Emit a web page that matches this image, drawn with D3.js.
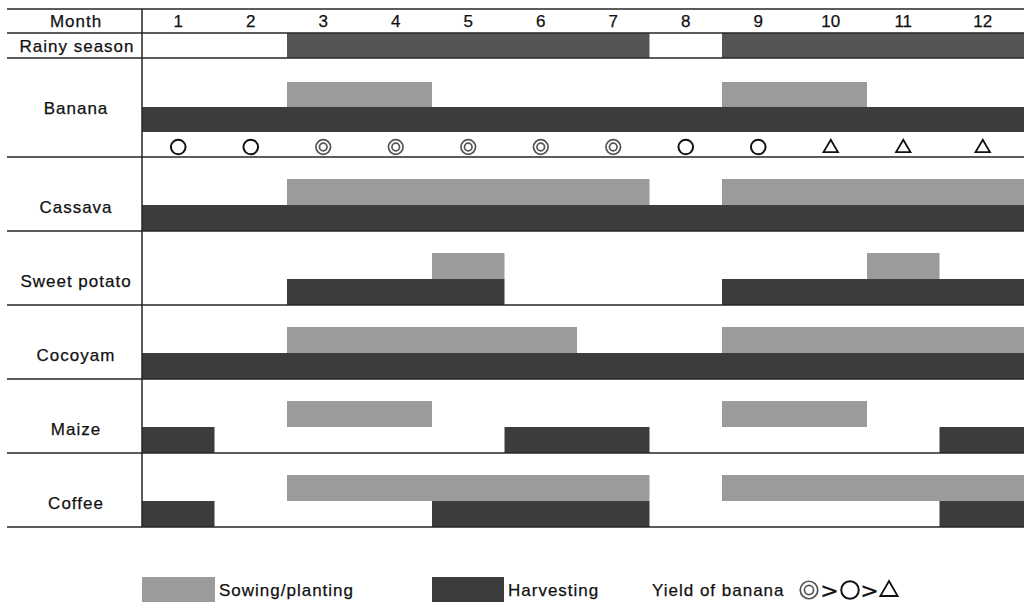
<!DOCTYPE html>
<html>
<head>
<meta charset="utf-8">
<script src="https://cdn.jsdelivr.net/npm/d3@7"></script>
<style>
  html, body { margin: 0; padding: 0; background: #fff; }
  svg { display: block; }
  text { font-family: "Liberation Sans", Arial, sans-serif; fill: #111; stroke: #111; stroke-width: 0.25px; }
</style>
</head>
<body>
<svg id="chart" width="1024" height="604"></svg>
<script>
// ---- Data ----
const months = [1, 2, 3, 4, 5, 6, 7, 8, 9, 10, 11, 12];
const monthLabels = ["1", "2", "3", "4", "5", "6", "7", "8", "9", "10", "11", "12"];
const crops = ["Banana", "Cassava", "Sweet potato", "Cocoyam", "Maize", "Coffee"];
// periods: [startMonth, endMonth] inclusive
const rainySeason = [[3, 7], [9, 12]];
const sowing = {
  "Banana": [[3, 4], [9, 10]],
  "Cassava": [[3, 7], [9, 12]],
  "Sweet potato": [[5, 5], [11, 11]],
  "Cocoyam": [[3, 6], [9, 12]],
  "Maize": [[3, 4], [9, 10]],
  "Coffee": [[3, 7], [9, 12]]
};
const harvesting = {
  "Banana": [[1, 12]],
  "Cassava": [[1, 12]],
  "Sweet potato": [[3, 5], [9, 12]],
  "Cocoyam": [[1, 12]],
  "Maize": [[1, 1], [6, 7], [12, 12]],
  "Coffee": [[1, 1], [5, 7], [12, 12]]
};
// banana yield: 3 = ◎, 2 = ○, 1 = △
const bananaYield = [2, 2, 3, 3, 3, 3, 3, 2, 2, 1, 1, 1];
const yieldOrder = [3, 2, 1];
const legendLabels = ["Sowing/planting", "Harvesting", "Yield of banana"];

// ---- Layout ----
const svg = d3.select("#chart");
const COL_SOW = "#9b9b9b", COL_HARV = "#3c3c3c", COL_RAIN = "#555555", COL_LINE = "#262626";
const x = d3.scaleLinear().domain([0, 11, 12]).range([142, 939.5, 1026]);
const lineX0 = 7, lineX1 = 1024;
const topY = 9, headerBottom = 33, rainBottom = 58;
const bananaTop = 58, bananaBottom = 157, rowH = 74;

const rowTop = {};
crops.forEach((c, i) => {
  rowTop[c] = (c === "Banana") ? bananaTop : bananaBottom + (i - 1) * rowH;
});
const tableBottom = bananaBottom + (crops.length - 1) * rowH;

const gBars = svg.append("g");
gBars.selectAll("rect.rain").data(rainySeason).join("rect")
  .attr("x", d => x(d[0] - 1)).attr("width", d => x(d[1]) - x(d[0] - 1))
  .attr("y", headerBottom).attr("height", rainBottom - headerBottom)
  .attr("fill", COL_RAIN);

crops.forEach(c => {
  const t = rowTop[c];
  const sY = c === "Banana" ? t + 24 : t + 22;
  const hY = c === "Banana" ? t + 49 : t + 48;
  const h = c === "Banana" ? 25 : 26;
  gBars.selectAll(null).data(sowing[c]).join("rect")
    .attr("x", d => x(d[0] - 1)).attr("width", d => x(d[1]) - x(d[0] - 1))
    .attr("y", sY).attr("height", hY - sY)
    .attr("fill", COL_SOW);
  gBars.selectAll(null).data(harvesting[c]).join("rect")
    .attr("x", d => x(d[0] - 1)).attr("width", d => x(d[1]) - x(d[0] - 1))
    .attr("y", hY).attr("height", h)
    .attr("fill", COL_HARV);
});

// grid lines
const hLines = [topY, headerBottom, rainBottom, bananaBottom]
  .concat(crops.slice(1).map(c => rowTop[c] + rowH));
svg.append("g").selectAll("line").data(hLines).join("line")
  .attr("x1", lineX0).attr("x2", lineX1)
  .attr("y1", d => d).attr("y2", d => d)
  .attr("stroke", COL_LINE).attr("stroke-width", 1.5);
svg.append("line")
  .attr("x1", x(0)).attr("x2", x(0)).attr("y1", topY).attr("y2", tableBottom)
  .attr("stroke", COL_LINE).attr("stroke-width", 1.5);

// header
const fs = "17px", ls = "1px";
svg.append("text").attr("x", 76).attr("y", 27).attr("text-anchor", "middle")
  .style("font-size", fs).style("letter-spacing", ls).text("Month");
svg.selectAll("text.m").data(months).join("text")
  .attr("class", "m")
  .attr("x", d => (x(d - 1) + x(d)) / 2).attr("y", 27)
  .attr("text-anchor", "middle").style("font-size", fs)
  .text((d, i) => monthLabels[i]);
svg.append("text").attr("x", 77).attr("y", 52).attr("text-anchor", "middle")
  .style("font-size", fs).style("letter-spacing", ls).text("Rainy season");

// crop labels
svg.selectAll("text.crop").data(crops).join("text")
  .attr("class", "crop")
  .attr("x", 76).attr("y", d => rowTop[d] + 56)
  .attr("text-anchor", "middle").style("font-size", fs).style("letter-spacing", ls)
  .text(d => d);

// banana yield symbols
const gSym = svg.append("g");
bananaYield.forEach((v, i) => {
  drawYieldSymbol(gSym, (x(i) + x(i + 1)) / 2, 147, v, 1);
});

function drawYieldSymbol(g, cx, cy, v, k) {
  if (v === 3) {
    g.append("circle").attr("cx", cx).attr("cy", cy).attr("r", 7.3 * k)
      .attr("fill", "none").attr("stroke", "#555").attr("stroke-width", 1.7);
    g.append("circle").attr("cx", cx).attr("cy", cy).attr("r", 3.8 * k)
      .attr("fill", "none").attr("stroke", "#555").attr("stroke-width", 1.7);
  } else if (v === 2) {
    g.append("circle").attr("cx", cx).attr("cy", cy).attr("r", 7.3 * k)
      .attr("fill", "none").attr("stroke", "#111").attr("stroke-width", 2);
  } else {
    g.append("path").attr("transform", `translate(${cx},${cy + 1})`)
      .attr("d", d3.symbol(d3.symbolTriangle, 90 * k * k)())
      .attr("fill", "none").attr("stroke", "#111").attr("stroke-width", 1.8);
  }
}

// legend
const legY = 577, legH = 25;
svg.append("rect").attr("x", 142).attr("y", legY).attr("width", 73).attr("height", legH).attr("fill", COL_SOW);
svg.append("rect").attr("x", 432).attr("y", legY).attr("width", 72).attr("height", legH).attr("fill", COL_HARV);
svg.append("text").attr("x", 219).attr("y", 596).style("font-size", fs).style("letter-spacing", ls).text(legendLabels[0]);
svg.append("text").attr("x", 508).attr("y", 596).style("font-size", fs).style("letter-spacing", ls).text(legendLabels[1]);
svg.append("text").attr("x", 652).attr("y", 596).style("font-size", fs).style("letter-spacing", ls).text(legendLabels[2]);
// symbol sequence ◎ > ○ > △
const seqX = [809, 850, 889];
yieldOrder.forEach((v, i) => drawYieldSymbol(svg, seqX[i], 590, v, 1.2));
[829.5, 869.5].forEach(px => {
  svg.append("text").attr("x", px).attr("y", 598).attr("text-anchor", "middle")
    .style("font-size", "22px").style("font-family", "DejaVu Sans").text(">");
});
</script>
</body>
</html>
